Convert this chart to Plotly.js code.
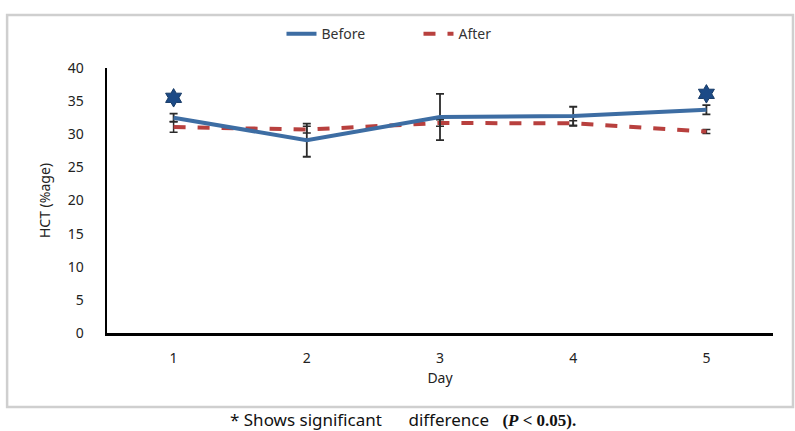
<!DOCTYPE html>
<html>
<head>
<meta charset="utf-8">
<script src="https://cdn.plot.ly/plotly-3.0.1.min.js"></script>
<style>html,body{margin:0;padding:0;background:#fff;}#chart{width:795px;height:431px;}</style>
</head>
<body>
<div id="chart"></div>
<script>
const days = ["1", "2", "3", "4", "5"];
const before = [32.5, 29.1, 32.6, 32.75, 33.7];
const beforeErr = [0.6, 2.5, 3.5, 1.4, 0.7];
const after = [31.1, 30.7, 31.7, 31.65, 30.4];
const afterErr = [0.8, 0.5, 0.5, 0.4, 0.3];
const sigDays = ["1", "5"];
const sigMarks = [35.5, 36.1];

const traces = [
  {
    x: days, y: after, name: "After", type: "scatter", mode: "lines",
    line: {color: "#b8403e", width: 4, dash: "12px,12px"},
    error_y: {type: "data", array: afterErr, visible: true, color: "#2b2b2b", thickness: 1.5, width: 4}
  },
  {
    x: days, y: before, name: "Before", type: "scatter", mode: "lines",
    line: {color: "#3d6da3", width: 4},
    error_y: {type: "data", array: beforeErr, visible: true, color: "#2b2b2b", thickness: 1.8, width: 4}
  },
  {
    x: sigDays, y: sigMarks, type: "scatter", mode: "markers", showlegend: false,
    marker: {symbol: "hexagram", size: 14, color: "#1c4a86", line: {color: "#163a66", width: 1}}
  }
];

const layout = {
  width: 795, height: 431,
  margin: {l: 107, r: 22, t: 68, b: 98},
  paper_bgcolor: "#ffffff", plot_bgcolor: "#ffffff",
  font: {family: "Noto Sans, DejaVu Sans, sans-serif", size: 14, color: "#222"},
  showlegend: true,
  legend: {orientation: "h", x: 0.262, xanchor: "left", y: 1.128, yanchor: "middle",
           traceorder: "reversed", font: {size: 14, color: "#333"},
           entrywidth: 92, entrywidthmode: "pixels"},
  xaxis: {
    type: "category", range: [-0.5, 4.5],
    showline: true, linecolor: "#000", linewidth: 2.5,
    showgrid: false, zeroline: false, ticks: "", ticklabelstandoff: 11,
    tickfont: {size: 14, color: "#222"},
    title: {text: "Day", font: {size: 14, color: "#222"}, standoff: 7}
  },
  yaxis: {
    range: [0, 40], dtick: 5,
    showline: true, linecolor: "#000", linewidth: 2.5,
    showgrid: false, zeroline: false, ticks: "", ticklabelstandoff: 18,
    tickfont: {size: 14, color: "#222"},
    title: {text: "HCT (%age)", font: {size: 14, color: "#222"}, standoff: 14}
  },
  shapes: [
    {type: "rect", xref: "paper", yref: "paper", x0: -0.150, x1: 1.030, y0: -0.279, y1: 1.2,
     line: {color: "#cfcfcf", width: 2.5}, fillcolor: "rgba(0,0,0,0)", layer: "below"}
  ],
  annotations: [
    {xref: "paper", yref: "paper", x: 0.444, y: -0.327, xanchor: "center", yanchor: "middle", showarrow: false,
     font: {size: 17, color: "#111"},
     text: "* Shows significant &nbsp;&nbsp;&nbsp;&nbsp; difference &nbsp;&nbsp;<span style=\"font-family:'Liberation Serif',serif;font-weight:bold\">(<i>P</i> &lt; 0.05).</span>"}
  ]
};

Plotly.newPlot("chart", traces, layout, {displayModeBar: false, staticPlot: true});
</script>
</body>
</html>
